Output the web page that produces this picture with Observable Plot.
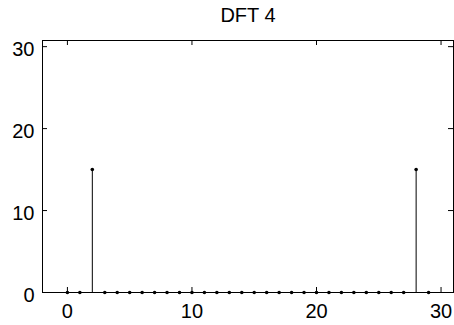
<!DOCTYPE html>
<html>
<head>
<meta charset="utf-8">
<script src="https://cdn.jsdelivr.net/npm/d3@7"></script>
<script src="https://cdn.jsdelivr.net/npm/@observablehq/plot@0.6"></script>
<style>
  html, body { margin: 0; padding: 0; background: white; }
</style>
</head>
<body>
<div id="chart"></div>
<script>
const title = "DFT 4";
const bins = [0,1,2,3,4,5,6,7,8,9,10,11,12,13,14,15,16,17,18,19,20,21,22,23,24,25,26,27,28,29];
const magnitude = [0,0,15,0,0,0,0,0,0,0,0,0,0,0,0,0,0,0,0,0,0,0,0,0,0,0,0,0,15,0];
const xTicks = [0,10,20,30];
const yTicks = [0,10,20,30];

const data = bins.map((k, i) => ({k, v: magnitude[i]}));

const W = 454, H = 325, mL = 42, mR = 1, mT = 40, mB = 33;
const fw = W - mL - mR, fh = H - mT - mB, tk = 5;

const chart = Plot.plot({
  width: W, height: H,
  marginLeft: mL, marginRight: mR, marginTop: mT, marginBottom: mB,
  x: {domain: [-2, 31]},
  y: {domain: [0, 30.75]},
  style: {fontFamily: "'Liberation Sans', Arial, sans-serif", fontSize: "20px", color: "black", background: "white"},
  marks: [
    Plot.frame({stroke: "black"}),
    Plot.tickX(xTicks, {x: d => d, insetTop: fh - tk, stroke: "black"}),
    Plot.tickX(xTicks, {x: d => d, insetBottom: fh - tk, stroke: "black"}),
    Plot.tickY(yTicks, {y: d => d, insetRight: fw - tk, stroke: "black"}),
    Plot.tickY(yTicks, {y: d => d, insetLeft: fw - tk, stroke: "black"}),
    Plot.axisX({ticks: xTicks, tickSize: 0, tickPadding: 11, label: null}),
    Plot.axisY({ticks: yTicks, tickSize: 0, tickPadding: 8, dy: 3, label: null}),
    Plot.ruleX(data, {x: "k", y1: 0, y2: "v", stroke: "black", strokeWidth: 1}),
    Plot.dot(data, {x: "k", y: "v", r: 1.8, fill: "black", stroke: null}),
    Plot.text([title], {text: d => d, frameAnchor: "top", dy: -25, lineAnchor: "middle", fontSize: 20, fill: "black"})
  ]
});
document.getElementById("chart").appendChild(chart);
</script>
</body>
</html>
